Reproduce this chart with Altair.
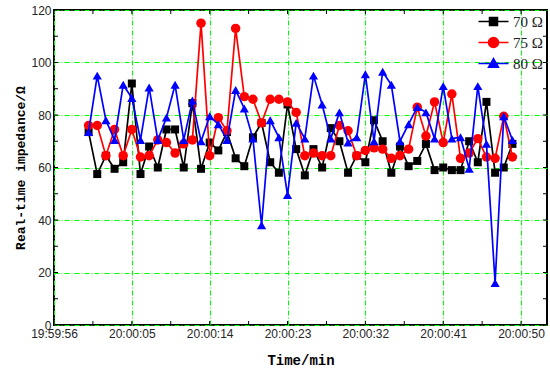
import altair as alt
import pandas as pd

# ---- data ----
times = ["20:00:00", "20:00:01", "20:00:02", "20:00:03", "20:00:04", "20:00:05",
         "20:00:06", "20:00:07", "20:00:08", "20:00:09", "20:00:10", "20:00:11",
         "20:00:12", "20:00:13", "20:00:14", "20:00:15", "20:00:16", "20:00:17",
         "20:00:18", "20:00:19", "20:00:20", "20:00:21", "20:00:22", "20:00:23",
         "20:00:24", "20:00:25", "20:00:26", "20:00:27", "20:00:28", "20:00:29",
         "20:00:30", "20:00:31", "20:00:32", "20:00:33", "20:00:34", "20:00:35",
         "20:00:36", "20:00:37", "20:00:38", "20:00:39", "20:00:40", "20:00:41",
         "20:00:42", "20:00:43", "20:00:44", "20:00:45", "20:00:46", "20:00:47",
         "20:00:48", "20:00:49"]

r70 = [73.5, 57.5, 64.5, 59.5, 62, 92, 57.5, 68, 60, 74.5, 74.5, 60, 84.5, 59.5, 69.5, 66.5,
       73.5, 63.5, 60.5, 71.5, 77, 62, 58, 84, 67, 57, 67, 60, 75, 70, 58, 64.5,
       62, 78, 70, 58, 68, 60.5, 62.5, 69, 59, 60, 59, 59, 70, 62, 85, 58, 60, 69]

r75 = [76, 76, 64.5, 74.5, 64.5, 74.5, 64, 64.5, 70.5, 69.5, 65.5, 69, 70.5, 115, 64.5, 79,
       74, 113, 87, 86, 77, 86, 86, 85, 81, 64.5, 65.5, 64.5, 64.5, 76, 74, 64.5,
       66.5, 67.5, 67, 63.5, 64.5, 67, 83, 72, 85, 69.5, 88, 63.5, 65.5, 71, 64, 63.5, 79.5, 64]

r80 = [73.5, 95, 78, 70.5, 91.5, 86.5, 70.5, 90.5, 70.5, 79, 91.5, 70.5, 85.5, 70, 79.5, 76.5,
       70.5, 89.5, 82.5, 71, 38, 78, 71.5, 49.5, 77, 71, 95, 84, 71, 81, 69.5, 71.5,
       95.5, 70, 96.5, 91.5, 70, 76.5, 83, 81, 71, 91, 71, 71.5, 59.5, 91, 69, 16, 79.5, 70.5]

series_names = ["70 Ω", "75 Ω", "80 Ω"]
x_tick_labels = ["19:59:56", "20:00:05", "20:00:14", "20:00:23", "20:00:32", "20:00:41", "20:00:50"]
y_tick_values = [0, 20, 40, 60, 80, 100, 120]

# ---- styles ----
colors = ["#000000", "#ff0000", "#0000ff"]
shapes = ["square", "circle", "triangle-up"]
sizes = [64, 90, 85]
legend_paths = [
    "M-3,0H3M-0.8,-0.8H0.8V0.8H-0.8Z",
    "M-3,0H3M1,0A1,1 0 1,1 -1,0A1,1 0 1,1 1,0Z",
    "M-3,0H3M0,-1L1,0.75H-1Z",
]

W, H = 493, 315
START = "19:59:56"


def to_sec(s):
    h, m, sec = (int(v) for v in s.split(":"))
    h0, m0, s0 = (int(v) for v in START.split(":"))
    return (h * 3600 + m * 60 + sec) - (h0 * 3600 + m0 * 60 + s0)


secs = [to_sec(t) for t in times]
x_tick_values = [to_sec(t) for t in x_tick_labels]
x_minor = [v / 2 for v in range(0, 2 * 54 + 1, 9)]
y_minor = list(range(0, 121, 10))

frames = []
for name, vals in zip(series_names, [r70, r75, r80]):
    frames.append(pd.DataFrame({"t": secs, "v": vals, "series": name, "time": times}))

lab_js = "[" + ",".join(f"'{s}'" for s in x_tick_labels) + "]"

x_scale = alt.Scale(domain=[0, 57], nice=False, zero=False)
y_scale = alt.Scale(domain=[0, 120], nice=False)

x_axis = alt.Axis(values=x_tick_values, labelExpr=f"{lab_js}[round(datum.value/9)]",
                  ticks=False, domain=False, grid=True, gridColor="#00ff00",
                  gridDash=[5, 2, 1, 2], gridWidth=1,
                  labelFont="Liberation Sans", labelFontSize=12, labelColor="#262626",
                  labelPadding=3, labelFlush=False,
                  title="Time/min", titleFont="Liberation Mono", titleFontSize=14,
                  titleFontWeight="bold", titleColor="#000000", titleY=28,
                  titleBaseline="top")
y_axis = alt.Axis(values=y_tick_values, ticks=False, domain=False, grid=True,
                  gridColor="#00ff00", gridDash=[5, 2, 1, 2], gridWidth=1,
                  labelFont="Liberation Sans", labelFontSize=12, labelColor="#262626",
                  labelPadding=3, labelFlush=False,
                  title="Real-time impedance/Ω", titleFont="Liberation Mono",
                  titleFontSize=13, titleFontWeight="bold", titleColor="#000000",
                  titleX=-34, titleY=H / 2, titleAngle=270, titleAlign="center",
                  titleBaseline="middle")

base_axes = alt.Chart(frames[0]).mark_point(opacity=0).encode(
    x=alt.X("t:Q", scale=x_scale, axis=x_axis),
    y=alt.Y("v:Q", scale=y_scale, axis=y_axis),
)

layers = [base_axes]
for df, c, shp, sz in zip(frames, colors, shapes, sizes):
    line = alt.Chart(df).mark_line(color=c, strokeWidth=1.7).encode(
        x=alt.X("t:Q", scale=x_scale), y=alt.Y("v:Q", scale=y_scale))
    pts = alt.Chart(df).mark_point(filled=True, color=c, shape=shp, size=sz, opacity=1).encode(
        x=alt.X("t:Q", scale=x_scale), y=alt.Y("v:Q", scale=y_scale))
    layers += [line, pts]

# legend (built-in legend with line+marker symbols)
leg = alt.Legend(title=None, orient="none", legendX=432, legendY=4, symbolSize=100,
                 symbolStrokeWidth=1.5, symbolOpacity=1, labelFont="Liberation Serif",
                 labelFontSize=15, labelColor="#222222", labelOffset=12, rowPadding=4,
                 padding=0, direction="vertical")
legend_df = pd.DataFrame({"series": series_names})
legend_layer = alt.Chart(legend_df).mark_point(filled=True, opacity=0).encode(
    shape=alt.Shape("series:N", scale=alt.Scale(domain=series_names, range=legend_paths), legend=leg),
    fill=alt.Fill("series:N", scale=alt.Scale(domain=series_names, range=colors), legend=leg),
    stroke=alt.Stroke("series:N", scale=alt.Scale(domain=series_names, range=colors), legend=leg),
)
layers.append(legend_layer)

# inward ticks
xt = pd.DataFrame({"p": x_minor})
yt = pd.DataFrame({"p": y_minor})
tick_style = dict(color="black", strokeWidth=1)
layers += [
    alt.Chart(xt).mark_rule(**tick_style).encode(x=alt.X("p:Q", scale=x_scale), y=alt.value(H), y2=alt.value(H - 4)),
    alt.Chart(xt).mark_rule(**tick_style).encode(x=alt.X("p:Q", scale=x_scale), y=alt.value(0), y2=alt.value(4)),
    alt.Chart(yt).mark_rule(**tick_style).encode(y=alt.Y("p:Q", scale=y_scale), x=alt.value(0), x2=alt.value(4)),
    alt.Chart(yt).mark_rule(**tick_style).encode(y=alt.Y("p:Q", scale=y_scale), x=alt.value(W), x2=alt.value(W - 4)),
]

chart = alt.layer(*layers).properties(
    width=W, height=H,
    autosize=alt.AutoSizeParams(type="none"),
    padding={"left": 54, "top": 10, "right": 3, "bottom": 46},
    background="white",
).configure_view(stroke="black", strokeWidth=2)

chart.save("out.html", embed_options={"renderer": "svg", "actions": False})
